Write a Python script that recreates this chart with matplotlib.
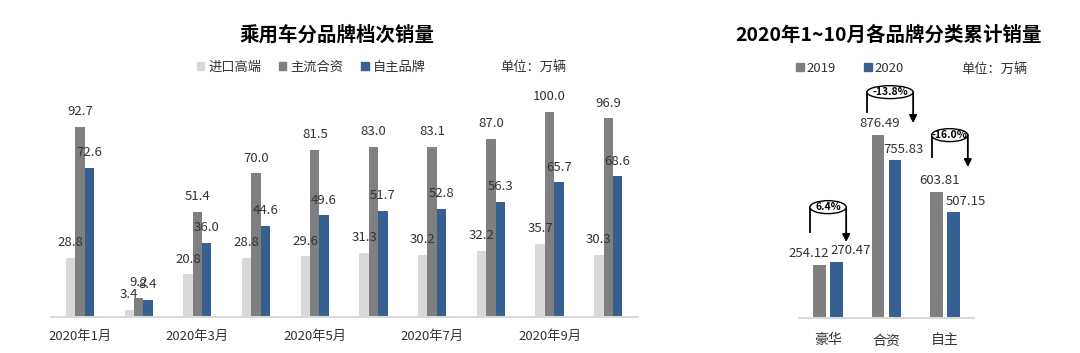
import numpy as np
import matplotlib
matplotlib.use("Agg")
import matplotlib.pyplot as plt
from matplotlib.patches import Ellipse, Patch

plt.rcParams["font.family"] = ["Noto Sans CJK SC", "DejaVu Sans"]

LIGHT = "#d9d9d9"
GRAY = "#7f7f7f"
BLUE = "#366092"
TEXT = "#333333"

# left chart: monthly sales by brand tier (万辆)
months = ["2020年1月", "2020年2月", "2020年3月", "2020年4月", "2020年5月",
          "2020年6月", "2020年7月", "2020年8月", "2020年9月", "2020年10月"]
series_names = ["进口高端", "主流合资", "自主品牌"]
import_premium = [28.8, 3.4, 20.8, 28.8, 29.6, 31.3, 30.2, 32.2, 35.7, 30.3]
jv_mainstream = [92.7, 9.2, 51.4, 70.0, 81.5, 83.0, 83.1, 87.0, 100.0, 96.9]
domestic = [72.6, 8.4, 36.0, 44.6, 49.6, 51.7, 52.8, 56.3, 65.7, 68.6]

# right chart: Jan-Oct cumulative sales (万辆)
segments = ["豪华", "合资", "自主"]
years = ["2019", "2020"]
sales_2019 = [254.12, 876.49, 603.81]
sales_2020 = [270.47, 755.83, 507.15]


def draw_monthly(fig):
    ax = fig.add_axes([0.0469, 0.102, 0.5435, 0.6388])
    x = np.arange(len(months))
    w = 0.16

    for i, (vals, color) in enumerate(zip(
            [import_premium, jv_mainstream, domestic],
            [LIGHT, GRAY, BLUE])):
        pos = x + (i - 1) * w
        ax.bar(pos, vals, w, color=color)
        for xi, v in zip(pos, vals):
            ax.annotate(f"{v:.1f}", (xi, v), xytext=(0, 11),
                        textcoords="offset points", ha="center",
                        va="center", fontsize=9.5, color=TEXT)

    ax.set_xlim(-0.5, len(months) - 0.5)
    ax.set_ylim(0, 110)
    ax.set_yticks([])
    ax.set_xticks(x[::2])
    ax.set_xticklabels(months[::2], fontsize=9.5, color=TEXT)
    ax.tick_params(axis="x", length=0, pad=9)

    for side in ["top", "right", "left"]:
        ax.spines[side].set_visible(False)
    ax.spines["bottom"].set_color(LIGHT)
    ax.spines["bottom"].set_linewidth(1.5)

    fig.text(337 / 1080, 1 - 35 / 353, "乘用车分品牌档次销量",
             ha="center", va="center", fontsize=14, fontweight="bold")

    handles = [Patch(color=c) for c in [LIGHT, GRAY, BLUE]]
    fig.legend(handles, series_names, loc="center",
               bbox_to_anchor=(311 / 1080, 1 - 67 / 353), ncol=3,
               frameon=False, fontsize=9.5, handlelength=0.6,
               handleheight=0.6, handletextpad=0.3, columnspacing=1.3,
               labelcolor=TEXT)
    fig.text(533 / 1080, 1 - 67 / 353, "单位：万辆", ha="center",
             va="center", fontsize=9.5, color=TEXT)


def draw_cumulative(fig):
    ax = fig.add_axes([0.7396, 0.0992, 0.1625, 0.680])
    x = np.arange(len(segments))
    w = 0.22
    off = 0.145

    ax.bar(x - off, sales_2019, w, color=GRAY)
    ax.bar(x + off, sales_2020, w, color=BLUE)

    # label nudges (points) so neighbouring labels do not collide
    nudge_2019 = [-8, 1, 2]
    nudge_2020 = [10, 6, 9]
    for xi, v, dx in zip(x - off, sales_2019, nudge_2019):
        ax.annotate(f"{v:.2f}", (xi, v), xytext=(dx, 8),
                    textcoords="offset points", ha="center", va="center",
                    fontsize=9.5, color=TEXT)
    for xi, v, dx in zip(x + off, sales_2020, nudge_2020):
        ax.annotate(f"{v:.2f}", (xi, v), xytext=(dx, 8),
                    textcoords="offset points", ha="center", va="center",
                    fontsize=9.5, color=TEXT)

    # growth rings with arrows
    ring_shift = [0.0, 0.06, 0.08]
    ring_width = [0.62, 0.79, 0.62]
    ring_y = [531, 1082, 876]
    left_end = [412, 987, 771]
    arrow_tip = [364, 934, 723]
    for i in range(len(segments)):
        rate = sales_2020[i] / sales_2019[i] - 1
        cx = x[i] + ring_shift[i]
        xl = cx - ring_width[i] / 2
        xr = cx + ring_width[i] / 2
        ax.plot([xl, xl], [ring_y[i], left_end[i]], color="black",
                lw=1.3, zorder=3)
        ax.annotate("", xy=(xr, arrow_tip[i]), xytext=(xr, ring_y[i]),
                    arrowprops=dict(arrowstyle="-|>", color="black",
                                    lw=1.3, mutation_scale=11,
                                    shrinkA=0, shrinkB=0), zorder=3)
        ax.add_patch(Ellipse((cx, ring_y[i]), ring_width[i], 62,
                             facecolor="white", edgecolor="black",
                             lw=1.0, zorder=4))
        ax.text(cx, ring_y[i], f"{rate:.1%}", ha="center", va="center",
                fontsize=7.5, fontweight="bold", zorder=5)

    ax.set_xlim(-0.5, len(segments) - 0.5)
    ax.set_ylim(0, 1150)
    ax.set_yticks([])
    ax.set_xticks(x)
    ax.set_xticklabels(segments, fontsize=10, color=TEXT)
    ax.tick_params(axis="x", length=0, pad=11)

    for side in ["top", "right", "left"]:
        ax.spines[side].set_visible(False)
    ax.spines["bottom"].set_color(LIGHT)
    ax.spines["bottom"].set_linewidth(1.5)

    fig.text(889 / 1080, 1 - 35 / 353, "2020年1~10月各品牌分类累计销量",
             ha="center", va="center", fontsize=14, fontweight="bold")

    handles = [Patch(color=c) for c in [GRAY, BLUE]]
    fig.legend(handles, years, loc="center",
               bbox_to_anchor=(850 / 1080, 1 - 68 / 353), ncol=2,
               frameon=False, fontsize=9.5, handlelength=0.6,
               handleheight=0.6, handletextpad=0.2, columnspacing=2.1,
               labelcolor=TEXT)
    fig.text(994 / 1080, 1 - 69 / 353, "单位：万辆", ha="center",
             va="center", fontsize=9.5, color=TEXT)


if __name__ == "__main__":

    fig = plt.figure(figsize=(10.8, 3.53), dpi=100)
    draw_monthly(fig)
    draw_cumulative(fig)
    fig.savefig("out.png", dpi=100)
